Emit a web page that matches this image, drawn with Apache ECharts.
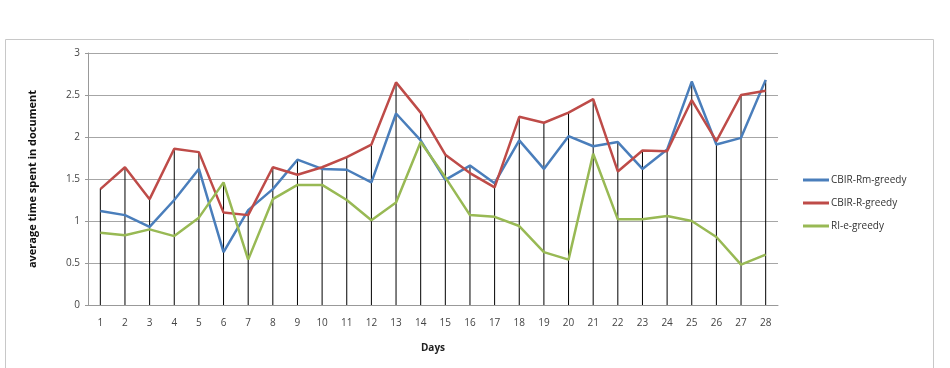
<!DOCTYPE html>
<html lang="en" style="height: 100%">
<head>
  <meta charset="utf-8">
  <title>average time spent in document</title>
  <script type="text/javascript" src="https://fastly.jsdelivr.net/npm/echarts@6/dist/echarts.min.js"></script>
</head>
<body style="height: 100%; margin: 0; background: #fff">
  <div id="chart" style="width: 950px; height: 368px"></div>

  <script type="text/javascript">
    var dom = document.getElementById('chart');
    var myChart = echarts.init(dom);

    let days = [];
    for (let d = 1; d <= 28; d++) days.push(String(d));

    let rmGreedy = [1.12, 1.07, 0.93, 1.25, 1.62, 0.63, 1.13, 1.38, 1.73, 1.62,
                    1.61, 1.46, 2.28, 1.96, 1.49, 1.66, 1.45, 1.96, 1.62, 2.01,
                    1.89, 1.94, 1.62, 1.85, 2.66, 1.91, 1.99, 2.68];
    let rGreedy = [1.38, 1.64, 1.26, 1.86, 1.82, 1.10, 1.07, 1.64, 1.55, 1.64,
                   1.76, 1.91, 2.65, 2.29, 1.79, 1.57, 1.40, 2.24, 2.17, 2.29,
                   2.45, 1.59, 1.84, 1.83, 2.44, 1.95, 2.50, 2.55];
    let eGreedy = [0.86, 0.83, 0.90, 0.82, 1.04, 1.46, 0.54, 1.26, 1.43, 1.43,
                   1.25, 1.01, 1.22, 1.94, 1.52, 1.07, 1.05, 0.94, 0.63, 0.54,
                   1.80, 1.02, 1.02, 1.06, 1.00, 0.81, 0.48, 0.60];

    // drop lines go from the axis up to the highest point of each day
    let dropLines = days.map((d, i) => Math.max(rmGreedy[i], rGreedy[i], eGreedy[i]));

    let font = 'Open Sans, Liberation Sans, sans-serif';

    let option = {
      animation: false,
      backgroundColor: '#fff',
      graphic: [
        {
          type: 'rect',
          shape: { x: 5.5, y: 39.5, width: 928, height: 330 },
          style: { fill: 'none', stroke: '#c8c8c8', lineWidth: 1 },
          silent: true
        }
      ],
      grid: { left: 88, right: 172, top: 53, bottom: 63 },
      legend: {
        data: ['CBIR-Rm-greedy', 'CBIR-R-greedy', 'RI-e-greedy'],
        orient: 'vertical',
        left: 798,
        top: 170,
        itemWidth: 26,
        itemHeight: 3,
        itemGap: 13,
        icon: 'rect',
        textStyle: { fontFamily: font, fontSize: 10, color: '#333', padding: [0, 0, 0, -3] }
      },
      xAxis: {
        type: 'category',
        data: days,
        name: 'Days',
        nameLocation: 'middle',
        nameGap: 38,
        nameTextStyle: { fontFamily: font, fontSize: 10, fontWeight: 'bold', color: '#222' },
        axisLine: { lineStyle: { color: '#999' } },
        axisTick: { show: false },
        axisLabel: { fontFamily: font, fontSize: 10, color: '#444', margin: 13 }
      },
      yAxis: {
        type: 'value',
        min: 0,
        max: 3,
        interval: 0.5,
        name: 'average time spent in document',
        nameLocation: 'middle',
        nameGap: 50,
        nameTextStyle: { fontFamily: font, fontSize: 11, fontWeight: 'bold', color: '#111' },
        axisLine: { show: true, lineStyle: { color: '#999' } },
        axisTick: { show: true, length: 3, lineStyle: { color: '#999' } },
        axisLabel: { fontFamily: font, fontSize: 10, color: '#444', margin: 8 },
        splitLine: { lineStyle: { color: '#a6a6a6' } }
      },
      series: [
        {
          name: 'drop',
          type: 'bar',
          data: dropLines,
          barWidth: 1,
          itemStyle: { color: '#000' },
          silent: true,
          z: 1
        },
        {
          name: 'CBIR-Rm-greedy',
          type: 'line',
          data: rmGreedy,
          symbol: 'none',
          lineStyle: { color: '#4a7ebb', width: 2.5 },
          itemStyle: { color: '#4a7ebb' },
          z: 3
        },
        {
          name: 'CBIR-R-greedy',
          type: 'line',
          data: rGreedy,
          symbol: 'none',
          lineStyle: { color: '#be4b48', width: 2.5 },
          itemStyle: { color: '#be4b48' },
          z: 3
        },
        {
          name: 'RI-e-greedy',
          type: 'line',
          data: eGreedy,
          symbol: 'none',
          lineStyle: { color: '#98b954', width: 2.5 },
          itemStyle: { color: '#98b954' },
          z: 3
        }
      ]
    };

    myChart.setOption(option);
  </script>
</body>
</html>
